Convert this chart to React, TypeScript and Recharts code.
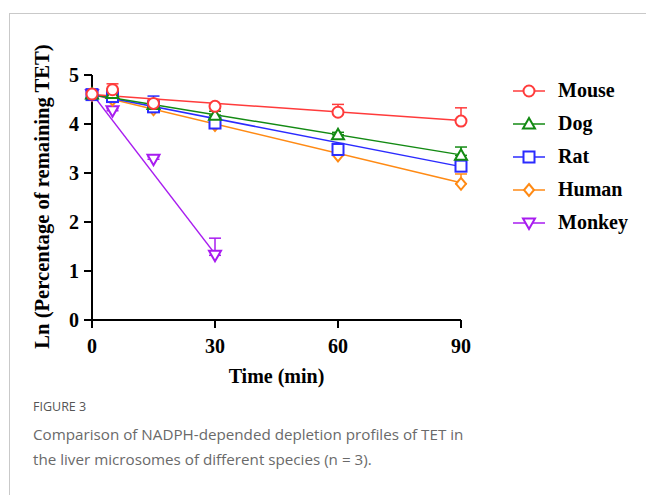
import { ComposedChart, Scatter, Line, XAxis, YAxis, ErrorBar, Label } from 'recharts';

const times = [0, 5, 15, 30, 60, 90];
const monkeyTimes = [0, 5, 15, 30];

const mouseMean = [4.61, 4.7, 4.42, 4.36, 4.24, 4.06];
const mouseSd = [0.03, 0.12, 0.08, 0.04, 0.16, 0.27];
const dogMean = [4.61, 4.62, 4.4, 4.18, 3.78, 3.36];
const dogSd = [0.03, 0.1, 0.06, 0.08, 0.05, 0.17];
const ratMean = [4.6, 4.56, 4.35, 4.02, 3.48, 3.14];
const ratSd = [0.03, 0.05, 0.22, 0.05, 0.12, 0.05];
const humanMean = [4.6, 4.5, 4.3, 3.98, 3.36, 2.78];
const humanSd = [0.03, 0.04, 0.04, 0.05, 0.06, 0.2];
const monkeyMean = [4.6, 4.27, 3.28, 1.32];
const monkeySd = [0.03, 0.04, 0.05, 0.35];

// linear fits: value at first and last time
const fitTimes = [0, 90];
const monkeyFitTimes = [0, 30];
const mouseFit = [4.6, 4.07];
const dogFit = [4.6, 3.37];
const ratFit = [4.6, 3.13];
const humanFit = [4.6, 2.8];
const monkeyFit = [4.62, 1.35];

const yTicks = [0, 1, 2, 3, 4, 5];
const xTicks = [0, 30, 60, 90];

type Kind = 'circle' | 'triangle' | 'square' | 'diamond' | 'down';

const toPoints = (ts: number[], means: number[], sds: number[]) =>
  ts.map((t, i) => ({ t, v: means[i], err: [0, sds[i]] }));
const toFit = (ts: number[], vals: number[]) => ts.map((t, i) => ({ t, v: vals[i] }));

const species = [
  { name: 'Mouse', color: '#ff3b3b', kind: 'circle' as Kind, pts: toPoints(times, mouseMean, mouseSd), fit: toFit(fitTimes, mouseFit) },
  { name: 'Dog', color: '#138a13', kind: 'triangle' as Kind, pts: toPoints(times, dogMean, dogSd), fit: toFit(fitTimes, dogFit) },
  { name: 'Rat', color: '#2b2bff', kind: 'square' as Kind, pts: toPoints(times, ratMean, ratSd), fit: toFit(fitTimes, ratFit) },
  { name: 'Human', color: '#ff8a14', kind: 'diamond' as Kind, pts: toPoints(times, humanMean, humanSd), fit: toFit(fitTimes, humanFit) },
  { name: 'Monkey', color: '#a81cf0', kind: 'down' as Kind, pts: toPoints(monkeyTimes, monkeyMean, monkeySd), fit: toFit(monkeyFitTimes, monkeyFit) },
];

function Marker({ kind, color, cx, cy }: { kind: Kind; color: string; cx: number; cy: number }) {
  const p = { fill: '#fff', stroke: color, strokeWidth: 2 };
  if (kind === 'circle') return <circle cx={cx} cy={cy} r={5.5} {...p} />;
  if (kind === 'square') return <rect x={cx - 5.5} y={cy - 5.5} width={11} height={11} {...p} />;
  if (kind === 'triangle')
    return <polygon points={`${cx},${cy - 6} ${cx + 6},${cy + 4.5} ${cx - 6},${cy + 4.5}`} {...p} />;
  if (kind === 'down')
    return <polygon points={`${cx},${cy + 6} ${cx + 6},${cy - 4.5} ${cx - 6},${cy - 4.5}`} {...p} />;
  return <polygon points={`${cx},${cy - 6} ${cx + 5},${cy} ${cx},${cy + 6} ${cx - 5},${cy}`} {...p} />;
}

const serif = '"Liberation Serif", "Times New Roman", serif';
const sans = '"Open Sans", "Noto Sans", sans-serif';
const bold = { fill: '#000', fontFamily: serif, fontWeight: 700 };

export default function App() {
  // draw mouse last so it sits on top
  const order = [...species].reverse();
  return (
    <div style={{ position: 'absolute', left: 0, top: 0, width: 646, height: 495, background: '#fff', overflow: 'hidden' }}>
      <div style={{ position: 'absolute', left: 9, top: 13, right: 0, bottom: 0, borderTop: '1.5px solid #c9c9c9', borderLeft: '1.5px solid #c9c9c9' }} />
      <div style={{ position: 'absolute', left: 0, top: 0 }}>
        <ComposedChart width={646} height={400} margin={{ top: 75, right: 185, bottom: 50, left: 0 }}>
          <XAxis
            type="number"
            dataKey="t"
            domain={[0, 90]}
            ticks={xTicks}
            stroke="#000"
            strokeWidth={2}
            tickSize={8}
            tickMargin={11}
            height={30}
            tick={{ ...bold, fontSize: 20 }}
          >
            <Label value="Time (min)" position="bottom" offset={19} style={{ ...bold, fontSize: 20 }} />
          </XAxis>
          <YAxis
            type="number"
            domain={[0, 5]}
            ticks={yTicks}
            width={92}
            stroke="#000"
            strokeWidth={2}
            tickSize={8}
            tickMargin={5}
            tick={{ ...bold, fontSize: 20 }}
          >
            <Label
              content={({ viewBox }: any) => {
                const x = 42;
                const y = viewBox.y + viewBox.height / 2 - 1;
                return (
                  <text x={x} y={y} transform={`rotate(-90 ${x} ${y})`} textAnchor="middle" dominantBaseline="central" style={{ ...bold, fontSize: 20.6 }}>
                    Ln (Percentage of remaining TET)
                  </text>
                );
              }}
            />
          </YAxis>
          {order.map((s) => (
            <Line
              key={s.name + '-fit'}
              data={s.fit}
              dataKey="v"
              type="linear"
              stroke={s.color}
              strokeWidth={1.5}
              dot={false}
              activeDot={false}
              isAnimationActive={false}
              legendType="none"
            />
          ))}
          {order.map((s) => (
            <Scatter
              key={s.name}
              name={s.name}
              data={s.pts}
              dataKey="v"
              isAnimationActive={false}
              shape={(props: any) => <Marker kind={s.kind} color={s.color} cx={props.cx} cy={props.cy} />}
            >
              <ErrorBar dataKey="err" direction="y" width={6} stroke={s.color} strokeWidth={1.5} />
            </Scatter>
          ))}
        </ComposedChart>
      </div>
      <div style={{ position: 'absolute', left: 510, top: 74 }}>
        {species.map((s) => (
          <div key={s.name} style={{ display: 'flex', alignItems: 'center', height: 33 }}>
            <svg width={40} height={16}>
              <line x1={3} x2={35} y1={8} y2={8} stroke={s.color} strokeWidth={1.5} />
              <Marker kind={s.kind} color={s.color} cx={19} cy={8} />
            </svg>
            <span style={{ marginLeft: 8, fontFamily: serif, fontWeight: 700, fontSize: 20, color: '#000' }}>{s.name}</span>
          </div>
        ))}
      </div>
      <div style={{ position: 'absolute', left: 33, top: 398, fontFamily: sans, color: '#555', fontSize: 12.5 }}>FIGURE 3</div>
      <div style={{ position: 'absolute', left: 33, top: 422, width: 560, fontFamily: sans, color: '#6a6a6a', fontSize: 15.2, lineHeight: '25px' }}>
        Comparison of NADPH-depended depletion profiles of TET in
        <br />
        the liver microsomes of different species (n = 3).
      </div>
    </div>
  );
}
